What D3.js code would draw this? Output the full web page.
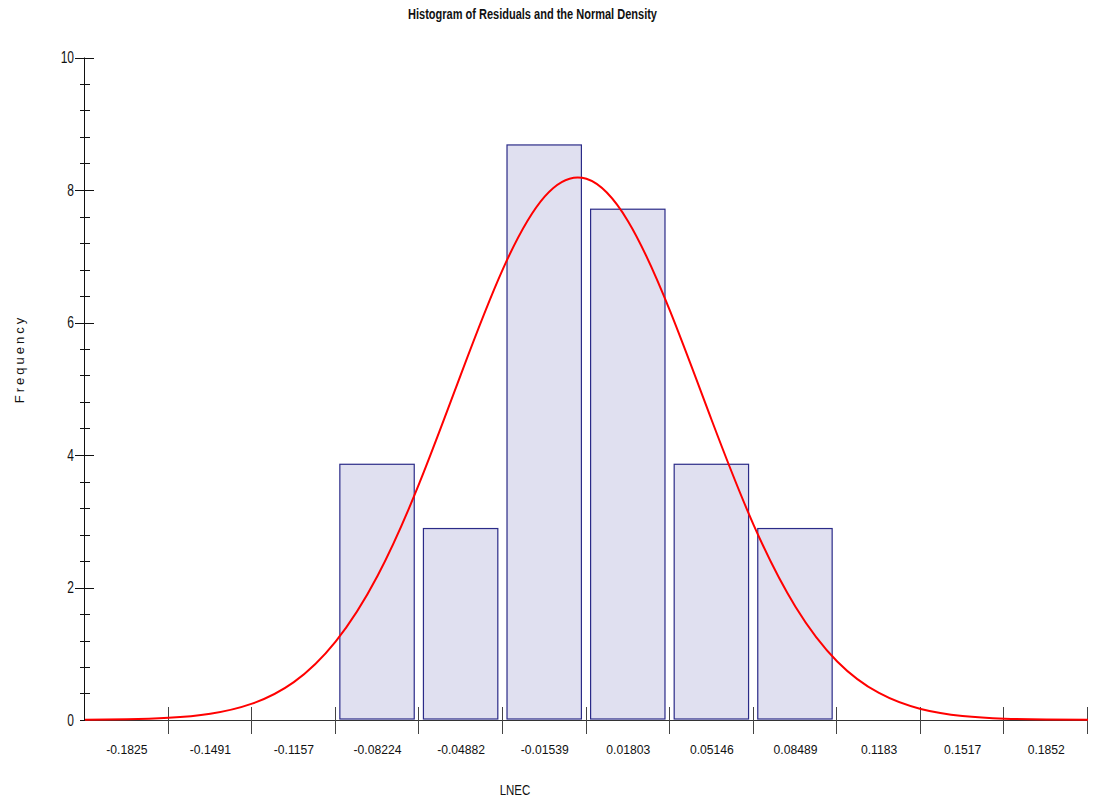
<!DOCTYPE html>
<html>
<head>
<meta charset="utf-8">
<script src="https://cdn.jsdelivr.net/npm/d3@7"></script>
<style>
  body { margin: 0; background: #fff; }
  svg { display: block; }
  text { font-family: "Liberation Sans", Arial, sans-serif; fill: #111; }
</style>
</head>
<body>
<svg id="chart" width="1099" height="802"></svg>
<script>
// bin labels (bin centres) and heights of the histogram bars
var binLabels = ["-0.1825", "-0.1491", "-0.1157", "-0.08224", "-0.04882", "-0.01539",
                 "0.01803", "0.05146", "0.08489", "0.1183", "0.1517", "0.1852"];
var freq = [0, 0, 0, 3.86, 2.89, 8.68, 7.71, 3.86, 2.89, 0, 0, 0];

// normal density curve at half-bin steps
var curveX = [-0.1992, -0.1825, -0.1658, -0.1491, -0.1324, -0.1157, -0.0990, -0.0822, -0.0655,
              -0.0488, -0.0321, -0.0154, 0.0013, 0.0180, 0.0347, 0.0515, 0.0682, 0.0849,
              0.1016, 0.1183, 0.1350, 0.1517, 0.1685, 0.1852, 0.2019];
var curveY = [0.003, 0.010, 0.033, 0.095, 0.247, 0.572, 1.183, 2.177, 3.574,
              5.225, 6.806, 7.90, 8.169, 7.526, 6.178, 4.517, 2.942, 1.710,
              0.884, 0.408, 0.167, 0.061, 0.020, 0.006, 0.002];

var yTicks = [0, 2, 4, 6, 8, 10];

var svg = d3.select("#chart");

// band scale for the bins, linear scale for the curve (same pixels)
var xb = d3.scaleBand().domain(binLabels).range([85, 1088]);
var x = d3.scaleLinear().domain([-0.19921, 0.20189]).range([85, 1088]);
var y = d3.scaleLinear().domain([0, 10]).range([720, 57.5]);

// narrow text: the original uses a condensed face, squeeze Liberation Sans
function narrowText(sel, px, py, sx) {
  return sel.attr("transform", "translate(" + px + "," + py + ") scale(" + sx + ",1)");
}

// title
svg.append("text")
  .attr("x", 532.5).attr("y", 19)
  .attr("text-anchor", "middle")
  .attr("textLength", 249)
  .attr("lengthAdjust", "spacingAndGlyphs")
  .style("font-size", "14px").style("font-weight", "bold")
  .text("Histogram of Residuals and the Normal Density");

// bars
var barW = xb.bandwidth() * 0.89;
svg.selectAll("rect.bar")
  .data(freq.map(function(f, i) { return {label: binLabels[i], f: f}; }).filter(function(d) { return d.f > 0; }))
  .enter().append("rect")
  .attr("class", "bar")
  .attr("x", function(d) { return xb(d.label) + (xb.bandwidth() - barW) / 2 - 0.5; })
  .attr("y", function(d) { return y(d.f); })
  .attr("width", barW)
  .attr("height", function(d) { return y(0) - 1 - y(d.f); })
  .style("fill", "#e0e0f0")
  .style("stroke", "#2b2b88")
  .style("stroke-width", 1.2);

// y axis with minor ticks
var yAxis = svg.append("g");
yAxis.append("line")
  .attr("x1", 84.5).attr("x2", 84.5).attr("y1", y(10)).attr("y2", y(0))
  .style("stroke", "#111");
var minor = d3.range(0, 10.01, 0.4);
yAxis.selectAll("line.minor")
  .data(minor).enter().append("line")
  .attr("x1", 80).attr("x2", 90)
  .attr("y1", function(d) { return Math.round(y(d)) + 0.5; })
  .attr("y2", function(d) { return Math.round(y(d)) + 0.5; })
  .style("stroke", "#111");
yAxis.selectAll("line.major")
  .data(yTicks.filter(function(d) { return d > 0; })).enter().append("line")
  .attr("x1", 75).attr("x2", 94)
  .attr("y1", function(d) { return Math.round(y(d)) + 0.5; })
  .attr("y2", function(d) { return Math.round(y(d)) + 0.5; })
  .style("stroke", "#111");
yAxis.selectAll("text")
  .data(yTicks).enter().append("text")
  .each(function(d) { narrowText(d3.select(this), 74, y(d) + 5.5, 0.75); })
  .attr("text-anchor", "end")
  .style("font-size", "16px")
  .text(function(d) { return d; });

// x axis: line, ticks at bin edges, labels at bin centres
var xAxis = svg.append("g");
xAxis.append("line")
  .attr("x1", 85).attr("x2", 1088).attr("y1", 720.5).attr("y2", 720.5)
  .style("stroke", "#333");
xAxis.selectAll("line.tick")
  .data(binLabels).enter().append("line")
  .attr("x1", function(d) { return Math.round(xb(d) + xb.bandwidth()) - 0.5; })
  .attr("x2", function(d) { return Math.round(xb(d) + xb.bandwidth()) - 0.5; })
  .attr("y1", 707).attr("y2", 734)
  .style("stroke", "#444");
xAxis.selectAll("text")
  .data(binLabels).enter().append("text")
  .each(function(d) { narrowText(d3.select(this), xb(d) + xb.bandwidth() / 2, 754, 0.9); })
  .attr("text-anchor", "middle")
  .style("font-size", "13.5px")
  .text(function(d) { return d; });

// normal density
var line = d3.line()
  .x(function(d, i) { return x(curveX[i]); })
  .y(function(d) { return y(d); })
  .curve(d3.curveNatural);
svg.append("path")
  .datum(curveY)
  .attr("d", line)
  .style("fill", "none")
  .style("stroke", "#ff0000")
  .style("stroke-width", 2);

// axis titles
narrowText(svg.append("text"), 515, 795, 0.82)
  .attr("text-anchor", "middle")
  .style("font-size", "14px")
  .text("LNEC");

svg.append("text")
  .attr("transform", "translate(24,359) rotate(-90)")
  .attr("text-anchor", "middle")
  .style("font-size", "13px")
  .style("letter-spacing", "3px")
  .text("Frequency");
</script>
</body>
</html>
